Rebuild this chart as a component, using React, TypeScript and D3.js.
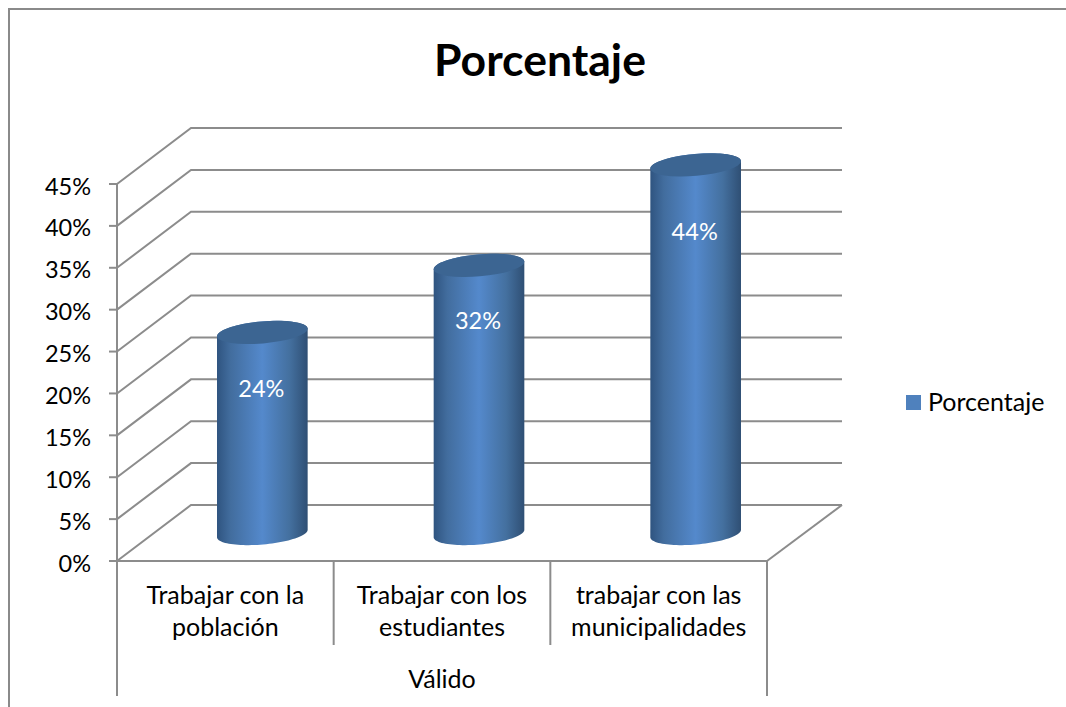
import React from "react";
import * as d3 from "d3";

const categories = ["Trabajar con la|población", "Trabajar con los|estudiantes", "trabajar con las|municipalidades"];
const values = [24, 32, 44];
const ticks = [0, 5, 10, 15, 20, 25, 30, 35, 40, 45];
const seriesName = "Porcentaje";
const groupLabel = "Válido";
const FONT = "Lato, 'Open Sans', sans-serif";
const GRID = "#8c8c8c";

const y = d3.scaleLinear().domain([0, 45]).range([561, 184]);
const x = d3.scaleBand<number>().domain([0, 1, 2]).range([117, 767]);
const DX = 74, DY = -56;
const RX = 45.5, RY = 11, TILT = (-5 * Math.PI) / 180;

// Point on the tilted ellipse at parameter t.
const ellipsePoint = (cx: number, cy: number, t: number): [number, number] => {
  const a = RX * Math.cos(t), b = RY * Math.sin(t);
  return [cx + a * Math.cos(TILT) - b * Math.sin(TILT), cy + a * Math.sin(TILT) + b * Math.cos(TILT)];
};
const params = d3.range(0, 49).map(k => (k / 48) * Math.PI); // 0..PI: front half of the ellipse
const line = d3.line();

function cylinderPath(cx: number, top: number, base: number) {
  const front = params.map(t => ellipsePoint(cx, base, t)); // right -> front -> left
  const back = params.map(t => ellipsePoint(cx, top, Math.PI + t)); // left -> back -> right
  return line([...front, ...back])! + "Z";
}

export default function App() {
  return (
    <svg width={1066} height={707} style={{ position: "absolute", left: 0, top: 0, background: "#fff" }}>
      <defs>
        <linearGradient id="cyl" x1="0" x2="1" y1="0" y2="0">
          <stop offset="0" stopColor="#2f5480" />
          <stop offset="0.15" stopColor="#426d9e" />
          <stop offset="0.5" stopColor="#5489cc" />
          <stop offset="0.8" stopColor="#44709f" />
          <stop offset="1" stopColor="#2f4f74" />
        </linearGradient>
      </defs>
      <polyline points="9,707 9,9 1066,9" fill="none" stroke="#8a8a8a" strokeWidth={2} />
      <text x={540} y={76} textAnchor="middle" fontFamily={FONT} fontWeight={700} fontSize={44.5} fill="#000">{seriesName}</text>

      {ticks.map(t => (
        <g key={t} stroke={GRID} strokeWidth={2} fill="none">
          <polyline points={`${x(0)},${y(t)} ${x(0)! + DX},${y(t) + DY} 842,${y(t) + DY}`} />
          <line x1={109} x2={117} y1={y(t)} y2={y(t)} />
        </g>
      ))}
      <line x1={117} x2={117} y1={y(45)} y2={696} stroke={GRID} strokeWidth={2} />
      <line x1={117} x2={767} y1={561} y2={561} stroke={GRID} strokeWidth={2} />
      <line x1={767} x2={842} y1={561} y2={505} stroke={GRID} strokeWidth={2} />
      {[1, 2].map(i => <line key={i} x1={x(i)} x2={x(i)} y1={561} y2={645} stroke={GRID} strokeWidth={2} />)}
      <line x1={767} x2={767} y1={561} y2={696} stroke={GRID} strokeWidth={2} />

      {ticks.map(t => (
        <text key={t} x={91} y={y(t) + 10.5} textAnchor="end" fontFamily={FONT} fontSize={23.5} fill="#000">{t}%</text>
      ))}

      {values.map((v, i) => {
        const cx = x(i)! + x.bandwidth() / 2 + DX / 2;
        const base = 533.5, top = base - (561 - y(v));
        const labelOffset = i === 0 ? 65 : i === 1 ? 64 : 75;
        return (
          <g key={i}>
            <path d={cylinderPath(cx, top, base)} fill="url(#cyl)" />
            <ellipse cx={cx} cy={top} rx={RX} ry={RY} transform={`rotate(-5 ${cx} ${top})`} fill="#3c6592" />
            <text x={cx - 1} y={top + labelOffset} textAnchor="middle" fontFamily={FONT} fontSize={23.5} fill="#fff">{v}%</text>
          </g>
        );
      })}

      {categories.map((c, i) => c.split("|").map((line, j) => (
        <text key={j} x={x(i)! + x.bandwidth() / 2} y={604 + j * 32} textAnchor="middle" fontFamily={FONT} fontSize={25} fill="#000">{line}</text>
      )))}
      <text x={442} y={688} textAnchor="middle" fontFamily={FONT} fontSize={25} fill="#000">{groupLabel}</text>

      <rect x={906} y={395} width={15} height={15} fill="#4f81bd" />
      <text x={928} y={411} fontFamily={FONT} fontSize={25} fill="#000">{seriesName}</text>
    </svg>
  );
}
